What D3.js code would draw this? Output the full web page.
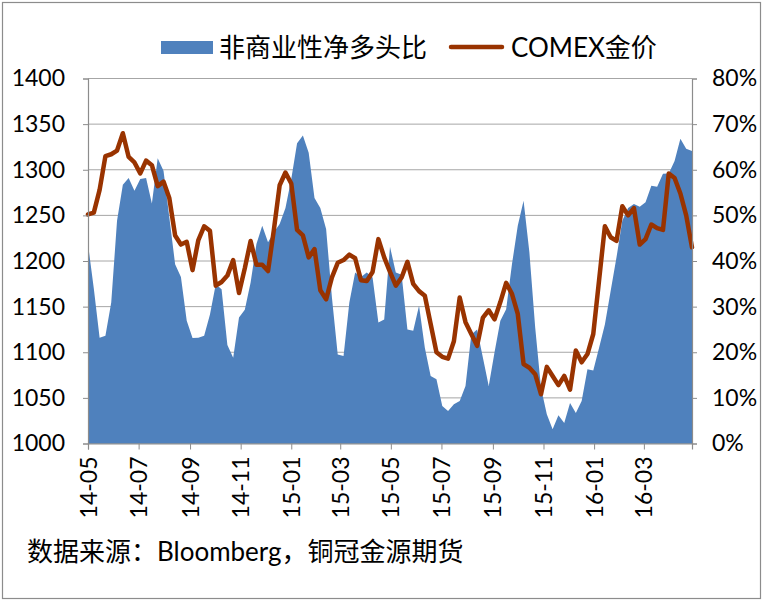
<!DOCTYPE html>
<html>
<head>
<meta charset="utf-8">
<script src="https://cdn.jsdelivr.net/npm/d3@7"></script>
<style>
  body { margin: 0; background: #fff; }
  svg { display: block; }
</style>
</head>
<body>
<svg id="chart"></svg>
<script>
// weekly COT data, first report 2014-05-06 (Tuesdays)
const startDate = new Date(2014, 4, 6);

// COMEX gold price (USD/oz)
const goldPrice = [
  1251, 1253, 1278, 1315, 1317, 1321, 1340, 1314, 1308, 1296,
  1310, 1305, 1282, 1287, 1269, 1228, 1218, 1221, 1190, 1223,
  1238, 1233, 1173, 1177, 1184, 1201, 1165, 1192, 1222, 1196,
  1196, 1189, 1234, 1283, 1297, 1285, 1234, 1228, 1204, 1213,
  1168, 1158, 1182, 1198, 1201, 1207, 1203, 1179, 1178, 1188,
  1224, 1204, 1188, 1173, 1182, 1199, 1175, 1167, 1162, 1131,
  1100, 1095, 1093, 1112, 1160, 1133, 1120, 1107, 1138, 1146,
  1136, 1155, 1176, 1164, 1142, 1087, 1083, 1076, 1054, 1084,
  1074, 1064, 1074, 1059, 1102, 1089, 1098, 1120, 1179, 1238,
  1226, 1222, 1260, 1250, 1258, 1218, 1224, 1240, 1236, 1234,
  1296, 1291, 1274, 1250, 1215
];

// non-commercial net long ratio (%)
const netLongRatio = [
  43.7, 34.0, 23.2, 23.6, 30.9, 48.8, 56.7, 58.2, 55.4, 58.0,
  58.2, 52.6, 62.5, 59.8, 49.6, 39.3, 36.5, 26.9, 23.1, 23.2,
  23.6, 28.3, 34.9, 33.8, 21.6, 18.8, 27.6, 29.3, 35.3, 43.7,
  47.7, 44.1, 46.3, 48.1, 51.6, 58.0, 65.8, 67.5, 63.7, 53.8,
  51.6, 47.0, 32.0, 19.5, 19.2, 30.9, 37.5, 36.5, 37.5, 36.4,
  26.5, 27.2, 43.1, 37.5, 37.0, 25.0, 24.7, 30.2, 21.0, 14.8,
  14.1, 8.2, 7.1, 8.6, 9.3, 12.6, 23.9, 25.0, 18.8, 12.6,
  20.0, 26.9, 29.4, 39.3, 47.7, 53.2, 41.9, 25.4, 12.2, 6.4,
  3.1, 6.2, 4.5, 8.9, 6.7, 9.3, 16.3, 16.0, 21.0, 26.1,
  33.5, 40.8, 48.8, 51.6, 52.5, 51.9, 52.9, 56.5, 56.3, 59.1,
  59.2, 61.9, 66.8, 64.6, 64.1
];

const xTickLabels = ["14-05", "14-07", "14-09", "14-11", "15-01", "15-03",
                     "15-05", "15-07", "15-09", "15-11", "16-01", "16-03"];
const leftTicks = [1000, 1050, 1100, 1150, 1200, 1250, 1300, 1350, 1400];
const rightTicks = [0, 10, 20, 30, 40, 50, 60, 70, 80];

const seriesNames = ["非商业性净多头比", "COMEX金价"];
const sourceNote = "数据来源：Bloomberg，铜冠金源期货";

function drawChart() {
    const width = 763;
    const height = 601;
    const left = 88, right = 692, top = 78.5, bottom = 443.5;
    const font = "Lato, 'Noto Sans CJK SC', sans-serif";

    const svg = d3.select("#chart")
        .attr("width", width)
        .attr("height", height)
        .style("font-family", font);

    // outer frame
    svg.append("rect")
        .attr("x", 2.5).attr("y", 2.5)
        .attr("width", width - 5).attr("height", height - 5)
        .attr("fill", "#fff")
        .attr("stroke", "#8c8c8c")
        .attr("stroke-width", 1.2);

    const dates = goldPrice.map((d, i) => d3.timeWeek.offset(startDate, i));
    const data = dates.map((d, i) => ({ date: d, gold: goldPrice[i], ratio: netLongRatio[i] }));

    const x = d3.scaleTime()
        .domain([dates[0], dates[dates.length - 1]])
        .range([left, right]);
    const yLeft = d3.scaleLinear().domain([1000, 1400]).range([bottom, top]);
    const yRight = d3.scaleLinear().domain([0, 80]).range([bottom, top]);

    // gridlines
    svg.append("g")
        .selectAll("line")
        .data(leftTicks)
        .join("line")
        .attr("x1", left).attr("x2", right)
        .attr("y1", d => yLeft(d)).attr("y2", d => yLeft(d))
        .attr("stroke", "#a6a6a6")
        .attr("stroke-width", 1);

    // net long ratio area
    const area = d3.area()
        .x(d => x(d.date))
        .y0(yRight(0))
        .y1(d => yRight(d.ratio));
    svg.append("path")
        .datum(data)
        .attr("fill", "#4f81bd")
        .attr("d", area);

    // gold line
    const line = d3.line()
        .x(d => x(d.date))
        .y(d => yLeft(d.gold));
    svg.append("path")
        .datum(data)
        .attr("fill", "none")
        .attr("stroke", "#993300")
        .attr("stroke-width", 4.5)
        .attr("stroke-linejoin", "round")
        .attr("stroke-linecap", "round")
        .attr("d", line);

    // left axis
    const axisL = svg.append("g")
        .attr("transform", `translate(${left},0)`)
        .call(d3.axisLeft(yLeft).tickValues(leftTicks).tickSize(5).tickPadding(18)
            .tickFormat(d3.format("d")));
    // right axis
    const axisR = svg.append("g")
        .attr("transform", `translate(${right},0)`)
        .call(d3.axisRight(yRight).tickValues(rightTicks).tickSize(5).tickPadding(15)
            .tickFormat(d => d + "%"));

    // bottom axis, a tick every two months from the first report
    const tickDates = xTickLabels.map((t, k) => d3.timeMonth.offset(startDate, 2 * k));
    const axisB = svg.append("g")
        .attr("transform", `translate(0,${bottom})`)
        .call(d3.axisBottom(x).tickValues(tickDates).tickSize(6)
            .tickFormat((d, k) => xTickLabels[k]));
    axisB.selectAll("text")
        .attr("transform", "rotate(-90)")
        .attr("text-anchor", "end")
        .attr("x", -13)
        .attr("y", 0)
        .attr("dy", "0.35em");

    [axisL, axisR, axisB].forEach(g => {
        g.select(".domain").attr("stroke", "#8c8c8c").attr("stroke-width", 1.2);
        g.selectAll(".tick line").attr("stroke", "#8c8c8c");
        g.selectAll("text")
            .style("font-family", font)
            .style("font-size", "23px")
            .attr("fill", "#000");
    });

    // legend
    const legend = svg.append("g").style("font-size", "26px");
    legend.append("rect")
        .attr("x", 161).attr("y", 41)
        .attr("width", 52).attr("height", 13)
        .attr("fill", "#4f81bd");
    legend.append("text")
        .attr("x", 219).attr("y", 47.5)
        .attr("dy", "0.36em")
        .text(seriesNames[0]);
    legend.append("line")
        .attr("x1", 451).attr("x2", 502)
        .attr("y1", 47).attr("y2", 47)
        .attr("stroke", "#993300")
        .attr("stroke-width", 4.5)
        .attr("stroke-linecap", "round");
    legend.append("text")
        .attr("x", 511).attr("y", 47.5)
        .attr("dy", "0.36em")
        .text(seriesNames[1]);

    // source note
    svg.append("text")
        .attr("x", 27).attr("y", 552)
        .attr("dy", "0.36em")
        .style("font-size", "26px")
        .text(sourceNote);
}

drawChart();
</script>
</body>
</html>
